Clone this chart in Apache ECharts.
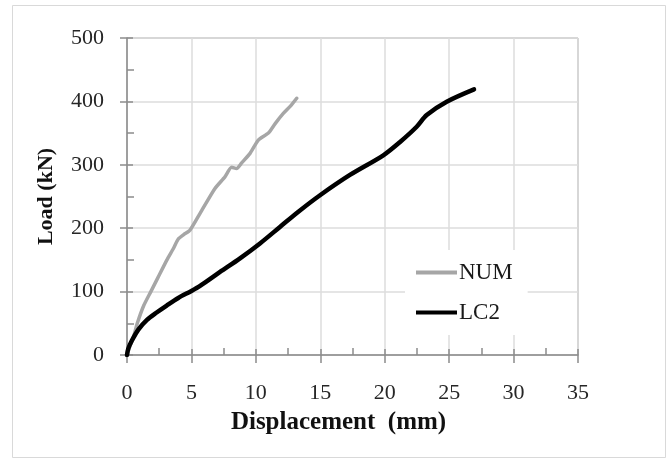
<!DOCTYPE html>
<html>
<head>
<meta charset="utf-8">
<script src="https://cdn.jsdelivr.net/npm/echarts@6/dist/echarts.min.js"></script>
<style>
html,body{margin:0;padding:0;background:#fff;}
#c{width:669px;height:458px;}
</style>
</head>
<body>
<div id="c"></div>
<script>
// Data
const numX = [0, 0.25, 0.5, 0.8, 1.3, 1.85, 2.4, 3.1, 3.6, 3.98, 4.4, 4.89, 5.67, 6.8, 7.6, 8.12, 8.5, 8.9, 9.55, 10.19, 10.97, 11.5, 12.13, 12.7, 13.17];
const numY = [0, 15, 28, 50, 78, 100, 122, 150, 168, 183, 190, 197, 223.5, 262, 281, 296, 294, 303, 318, 339, 350, 365, 381, 393, 405];
const lcX = [0, 0.1, 0.36, 0.88, 1.53, 2.3, 3.08, 3.98, 5.0, 5.67, 7.22, 8.77, 10.32, 11.87, 13.3, 14.98, 17.3, 19.89, 21.19, 22.48, 23.26, 24.81, 26.93];
const lcY = [0, 10, 22, 40, 55, 67, 78, 90, 101, 109, 131, 152.5, 176, 202, 226, 252, 284, 315, 336, 360, 378.5, 399.5, 419];
const seriesNames = ['NUM', 'LC2'];
const xTitle = 'Displacement  (mm)';
const yTitle = 'Load (kN)';

const zip = (xs, ys) => xs.map((x, i) => [x, ys[i]]);
const FONT = '"Liberation Serif", "Times New Roman", serif';
const axisCol = '#8c8c8c';

const chart = echarts.init(document.getElementById('c'), null, {renderer: 'canvas'});
chart.setOption({
  animation: false,
  backgroundColor: '#fff',
  graphic: [{
    type: 'rect', z: -10, silent: true,
    shape: {x: 12.5, y: 5.5, width: 653, height: 452},
    style: {fill: '#fff', stroke: '#d9d9d9', lineWidth: 1}
  }],
  grid: {left: 127, right: 91, top: 38, bottom: 103, show: true, borderColor: axisCol, borderWidth: 1, backgroundColor: 'transparent'},
  legend: {
    orient: 'vertical', left: 405, top: 250,
    padding: [11, 15, 11, 11], itemGap: 17,
    backgroundColor: '#fff',
    itemWidth: 41, itemHeight: 4, icon: 'rect',
    textStyle: {fontFamily: FONT, fontSize: 23, color: '#1a1a1a', padding: [0, 0, 0, -3]},
    data: seriesNames
  },
  xAxis: [{
    type: 'value', min: 0, max: 35, interval: 5,
    name: xTitle, nameLocation: 'middle', nameGap: 55,
    nameTextStyle: {fontFamily: FONT, fontSize: 25, fontWeight: 'bold', color: '#111', padding: [0, 28, 0, 0]},
    axisLine: {show: true, lineStyle: {color: axisCol, width: 1.5}},
    axisTick: {show: true, inside: false, length: 8, lineStyle: {color: axisCol, width: 1.5}},
    axisLabel: {fontFamily: FONT, fontSize: 22, color: '#262626', margin: 27},
    splitLine: {show: true, lineStyle: {color: '#dcdcdc', width: 1.5}}
  }, {
    type: 'value', min: 0, max: 35, interval: 5, position: 'bottom',
    axisLine: {show: false},
    axisTick: {show: true, inside: true, length: 6, lineStyle: {color: axisCol, width: 1.5}},
    minorTick: {show: true, splitNumber: 2, length: 7, lineStyle: {color: axisCol, width: 1.5}},
    axisLabel: {show: false}, splitLine: {show: false}
  }],
  yAxis: [{
    type: 'value', min: 0, max: 500, interval: 100,
    name: yTitle, nameLocation: 'middle', nameGap: 70,
    nameTextStyle: {fontFamily: FONT, fontSize: 22, fontWeight: 'bold', color: '#111'},
    axisLine: {show: true, lineStyle: {color: axisCol, width: 1.5}},
    axisTick: {show: true, inside: false, length: 7, lineStyle: {color: axisCol, width: 1.5}},
    axisLabel: {fontFamily: FONT, fontSize: 22, color: '#262626', margin: 23},
    splitLine: {show: true, lineStyle: {color: '#dcdcdc', width: 1.5}}
  }, {
    type: 'value', min: 0, max: 500, interval: 100, position: 'left',
    axisLine: {show: false},
    axisTick: {show: true, inside: true, length: 6, lineStyle: {color: axisCol, width: 1.5}},
    minorTick: {show: true, splitNumber: 2, length: 7, lineStyle: {color: axisCol, width: 1.5}},
    axisLabel: {show: false}, splitLine: {show: false}
  }],
  series: [{
    name: seriesNames[0], type: 'line', xAxisIndex: 0, yAxisIndex: 0,
    data: zip(numX, numY), showSymbol: false, symbol: 'none', smooth: 0.2,
    itemStyle: {color: '#a6a6a6'},
    lineStyle: {color: '#a6a6a6', width: 3.5, cap: 'round', join: 'round'}
  }, {
    name: seriesNames[1], type: 'line', xAxisIndex: 0, yAxisIndex: 0,
    data: zip(lcX, lcY), showSymbol: false, symbol: 'none', smooth: 0.3,
    itemStyle: {color: '#000'},
    lineStyle: {color: '#000', width: 4.5, cap: 'round', join: 'round'}
  }]
});
</script>
</body>
</html>
